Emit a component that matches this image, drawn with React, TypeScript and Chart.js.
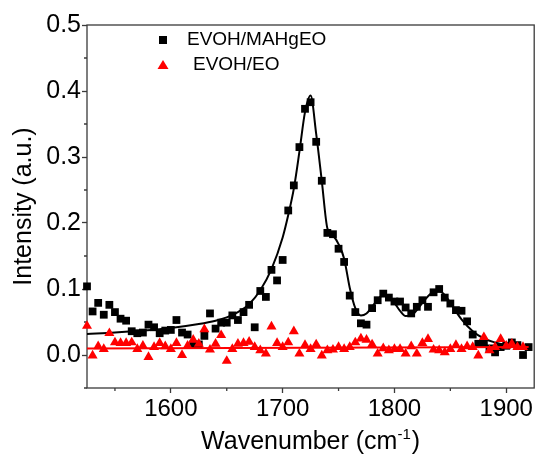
import { useEffect, useRef } from "react";
import { Chart, registerables } from "chart.js";

Chart.register(...registerables);

// Measured spectra (wavenumber in cm^-1, intensity in a.u.)
const mahgWavenumber = [
  1525, 1530, 1535, 1540, 1545, 1550, 1555, 1560, 1565, 1570,
  1575, 1580, 1585, 1590, 1595, 1600, 1605, 1610, 1615, 1620,
  1625, 1630, 1635, 1640, 1645, 1650, 1655, 1660, 1665, 1670,
  1675, 1680, 1685, 1690, 1695, 1700, 1705, 1710, 1715, 1720,
  1725, 1730, 1735, 1740, 1745, 1750, 1755, 1760, 1765, 1770,
  1775, 1780, 1785, 1790, 1795, 1800, 1805, 1810, 1815, 1820,
  1825, 1830, 1835, 1840, 1845, 1850, 1855, 1860, 1865, 1870,
  1875, 1880, 1885, 1890, 1895, 1900, 1905, 1910, 1915, 1920,
];
const mahgIntensity = [
  0.104, 0.066, 0.079, 0.061, 0.076, 0.065, 0.055, 0.052, 0.036, 0.033,
  0.034, 0.046, 0.042, 0.033, 0.037, 0.038, 0.053, 0.034, 0.031, 0.016,
  0.016, 0.029, 0.063, 0.040, 0.049, 0.049, 0.060, 0.053, 0.065, 0.076,
  0.042, 0.097, 0.088, 0.129, 0.113, 0.144, 0.219, 0.257, 0.315, 0.373,
  0.383, 0.323, 0.264, 0.185, 0.183, 0.161, 0.141, 0.090, 0.065, 0.048,
  0.046, 0.071, 0.083, 0.093, 0.087, 0.081, 0.081, 0.072, 0.063, 0.073,
  0.083, 0.073, 0.095, 0.100, 0.087, 0.078, 0.068, 0.067, 0.051, 0.031,
  0.017, 0.017, 0.010, 0.004, 0.012, 0.014, 0.019, 0.015, 0.000, 0.012,
];

const eoWavenumber = [
  1525, 1530, 1535, 1540, 1545, 1550, 1555, 1560, 1565, 1570,
  1575, 1580, 1585, 1590, 1595, 1600, 1605, 1610, 1615, 1620,
  1625, 1630, 1635, 1640, 1645, 1650, 1655, 1660, 1665, 1670,
  1675, 1680, 1685, 1690, 1695, 1700, 1705, 1710, 1715, 1720,
  1725, 1730, 1735, 1740, 1745, 1750, 1755, 1760, 1765, 1770,
  1775, 1780, 1785, 1790, 1795, 1800, 1805, 1810, 1815, 1820,
  1825, 1830, 1835, 1840, 1845, 1850, 1855, 1860, 1865, 1870,
  1875, 1880, 1885, 1890, 1895, 1900, 1905, 1910, 1915,
];
const eoIntensity = [
  0.044, -0.001, 0.013, 0.009, 0.033, 0.019, 0.018, 0.018, 0.019, 0.009,
  0.014, -0.003, 0.012, 0.018, 0.013, 0.009, 0.018, 0.000, 0.014, 0.023,
  0.017, 0.039, 0.008, 0.017, 0.030, -0.009, 0.009, 0.017, 0.018, 0.020,
  0.012, 0.007, 0.002, 0.043, 0.018, 0.012, 0.019, 0.036, 0.002, 0.015,
  0.009, 0.016, -0.001, 0.007, 0.008, 0.012, 0.009, 0.012, 0.019, 0.025,
  0.023, 0.016, 0.002, 0.010, 0.007, 0.009, 0.009, 0.002, 0.013, 0.002,
  0.018, 0.024, 0.008, 0.007, 0.004, 0.009, 0.015, 0.009, 0.013, 0.012,
  -0.001, 0.027, 0.007, 0.012, 0.024, 0.014, 0.017, 0.012, 0.012,
];

// Fitted curves
const mahgFitWavenumber = [
  1525, 1550, 1575, 1600, 1625, 1640, 1650, 1660, 1670, 1680,
  1690, 1700, 1705, 1710, 1715, 1720, 1725, 1730, 1735, 1740,
  1745, 1750, 1755, 1760, 1765, 1770, 1775, 1780, 1785, 1790,
  1795, 1800, 1805, 1810, 1815, 1820, 1825, 1830, 1835, 1840,
  1845, 1850, 1855, 1860, 1870, 1880, 1890, 1900, 1910, 1920,
];
const mahgFitIntensity = [
  0.032, 0.034, 0.037, 0.041, 0.047, 0.052, 0.057, 0.065, 0.077, 0.098,
  0.130, 0.178, 0.212, 0.252, 0.308, 0.368, 0.393, 0.335, 0.264, 0.192,
  0.181, 0.168, 0.146, 0.102, 0.071, 0.060, 0.063, 0.073, 0.084, 0.091,
  0.089, 0.079, 0.067, 0.059, 0.060, 0.068, 0.079, 0.089, 0.096, 0.097,
  0.091, 0.079, 0.066, 0.054, 0.036, 0.025, 0.019, 0.015, 0.013, 0.012,
];
const eoFitWavenumber = [1525, 1920];
const eoFitIntensity = [0.010, 0.012];

// Axis ticks
const xMajorTicks = [1600, 1700, 1800, 1900];
const xMinorTicks = [1550, 1650, 1750, 1850];
const yMajorTicks = [0.0, 0.1, 0.2, 0.3, 0.4, 0.5];
const yMinorTicks = [-0.05, 0.05, 0.15, 0.25, 0.35, 0.45];

const seriesNames = ["EVOH/MAHgEO", "EVOH/EO"];

const FONT = "'Liberation Sans', Arial, Helvetica, sans-serif";
const AXIS_COLOR = "#3a3a3a";
const RED = "#ff0000";

const toPoints = (xs: number[], ys: number[]) => xs.map((x, i) => ({ x, y: ys[i] }));

// Closed frame around the plot plus the short minor ticks
const framePlugin = {
  id: "frame",
  beforeDatasetsDraw(chart: any) {
    const { ctx, chartArea, scales } = chart;
    const { left, right, top, bottom } = chartArea;
    ctx.save();
    ctx.strokeStyle = AXIS_COLOR;
    ctx.lineWidth = 1.3;
    ctx.strokeRect(left, top, right - left, bottom - top);
    ctx.beginPath();
    for (const v of xMinorTicks) {
      const px = scales.x.getPixelForValue(v);
      ctx.moveTo(px, bottom);
      ctx.lineTo(px, bottom + 3);
    }
    for (const v of yMinorTicks) {
      const py = scales.y.getPixelForValue(v);
      ctx.moveTo(left, py);
      ctx.lineTo(left - 3, py);
    }
    ctx.stroke();
    ctx.restore();
  },
};

// Legend inside the plot and the x-axis title with its superscript
const annotationPlugin = {
  id: "annotations",
  afterDraw(chart: any) {
    const { ctx, chartArea } = chart;
    const { left, right } = chartArea;
    ctx.save();

    // legend
    const markX = left + 76;
    const rowY = [40, 65];
    ctx.fillStyle = "#000";
    ctx.fillRect(markX - 4, rowY[0] - 4, 8, 8);
    ctx.fillStyle = RED;
    ctx.beginPath();
    ctx.moveTo(markX, rowY[1] - 5);
    ctx.lineTo(markX + 5.5, rowY[1] + 4);
    ctx.lineTo(markX - 5.5, rowY[1] + 4);
    ctx.closePath();
    ctx.fill();
    ctx.fillStyle = "#000";
    ctx.font = `19px ${FONT}`;
    ctx.textBaseline = "middle";
    ctx.textAlign = "left";
    ctx.fillText(seriesNames[0], markX + 24, rowY[0]);
    ctx.fillText(seriesNames[1], markX + 30, rowY[1]);

    // x-axis title: Wavenumber (cm^-1)
    const main = "Wavenumber (cm";
    const sup = "-1";
    const close = ")";
    ctx.font = `25px ${FONT}`;
    const wMain = ctx.measureText(main).width;
    const wClose = ctx.measureText(close).width;
    ctx.font = `15px ${FONT}`;
    const wSup = ctx.measureText(sup).width;
    const total = wMain + wSup + wClose + 1;
    let x = (left + right) / 2 - total / 2;
    const base = 449;
    ctx.textBaseline = "alphabetic";
    ctx.font = `25px ${FONT}`;
    ctx.fillText(main, x, base);
    x += wMain;
    ctx.font = `15px ${FONT}`;
    ctx.fillText(sup, x, base - 10);
    x += wSup + 1;
    ctx.font = `25px ${FONT}`;
    ctx.fillText(close, x, base);
    ctx.restore();
  },
};

export default function App() {
  const canvasRef = useRef<HTMLCanvasElement | null>(null);

  useEffect(() => {
    const canvas = canvasRef.current;
    if (!canvas) return;

    const chart = new Chart(canvas, {
      type: "scatter",
      data: {
        datasets: [
          {
            label: "EVOH/MAHgEO fit",
            data: toPoints(mahgFitWavenumber, mahgFitIntensity),
            showLine: true,
            borderColor: "#000",
            borderWidth: 2,
            pointRadius: 0,
            cubicInterpolationMode: "monotone",
            order: 4,
            clip: false,
          },
          {
            label: seriesNames[0],
            data: toPoints(mahgWavenumber, mahgIntensity),
            pointStyle: "rect",
            pointRadius: 5.5,
            backgroundColor: "#000",
            borderColor: "#000",
            borderWidth: 0,
            order: 3,
            clip: false,
          },
          {
            label: seriesNames[1],
            data: toPoints(eoWavenumber, eoIntensity),
            pointStyle: "triangle",
            pointRadius: 5.8,
            backgroundColor: RED,
            borderColor: RED,
            borderWidth: 0,
            order: 2,
            clip: false,
          },
          {
            label: "EVOH/EO fit",
            data: toPoints(eoFitWavenumber, eoFitIntensity),
            showLine: true,
            borderColor: RED,
            borderWidth: 2,
            pointRadius: 0,
            order: 1,
            clip: false,
          },
        ],
      },
      options: {
        responsive: false,
        animation: false,
        devicePixelRatio: 1,
        layout: { padding: { top: 25, right: 3, left: 0, bottom: 0 } },
        plugins: {
          legend: { display: false },
          tooltip: { enabled: false },
        },
        scales: {
          x: {
            type: "linear",
            min: 1525,
            max: 1925,
            afterBuildTicks: (scale: any) => {
              scale.ticks = xMajorTicks.map((v) => ({ value: v }));
            },
            afterFit: (scale: any) => {
              scale.height = 71;
            },
            ticks: {
              color: "#000",
              font: { family: FONT, size: 24 },
              padding: 2,
              maxRotation: 0,
              autoSkip: false,
              callback: (v: any) => String(v),
            },
            grid: {
              drawOnChartArea: false,
              drawTicks: true,
              tickLength: 5,
              tickColor: AXIS_COLOR,
              tickWidth: 1.3,
            },
            border: { display: false },
            title: { display: false },
          },
          y: {
            type: "linear",
            min: -0.05,
            max: 0.5,
            afterBuildTicks: (scale: any) => {
              scale.ticks = yMajorTicks.map((v) => ({ value: v }));
            },
            afterFit: (scale: any) => {
              scale.width = 87;
            },
            ticks: {
              color: "#000",
              font: { family: FONT, size: 25 },
              padding: 1,
              autoSkip: false,
              callback: (v: any) => Number(v).toFixed(1),
            },
            grid: {
              drawOnChartArea: false,
              drawTicks: true,
              tickLength: 5,
              tickColor: AXIS_COLOR,
              tickWidth: 1.3,
            },
            border: { display: false },
            title: {
              display: true,
              text: "Intensity (a.u.)",
              color: "#000",
              font: { family: FONT, size: 25 },
              padding: { top: 9, bottom: 0 },
            },
          },
        },
      },
      plugins: [framePlugin, annotationPlugin],
    });

    return () => chart.destroy();
  }, []);

  return (
    <div
      style={{
        position: "fixed",
        left: 0,
        top: 0,
        width: 540,
        height: 459,
        background: "#fff",
      }}
    >
      <canvas ref={canvasRef} width={540} height={459} style={{ display: "block" }} />
    </div>
  );
}
